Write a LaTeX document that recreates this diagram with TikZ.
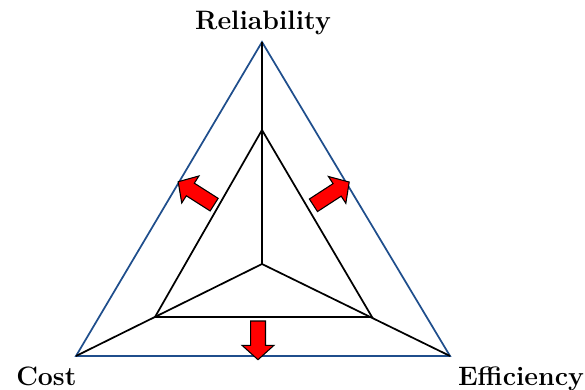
\documentclass[tikz,border=0pt]{standalone}
\usepackage{tikz}
\usetikzlibrary{shapes.arrows}
\definecolor{ink}{HTML}{000000}
\definecolor{frame}{HTML}{1F4E8C}
\definecolor{push}{HTML}{FF0000}
\tikzset{
  outer/.style={draw=frame, line width=1.3pt},
  web/.style={draw=ink, line width=1.3pt},
  axislabel/.style={inner sep=0pt, font=\fontsize{20}{22}\selectfont\bfseries, text=ink},
  redarrow/.style={single arrow, draw=ink, fill=push, line width=0.8pt,
                   inner xsep=0pt, inner ysep=5.2pt,
                   single arrow head extend=6.4pt,
                   minimum height=32pt, single arrow tip angle=96},
}
\begin{document}
\begin{tikzpicture}[x=0.75pt, y=-0.75pt]
  \useasboundingbox (0,0) rectangle (585,389);
  % outer and inner triangle
  \coordinate (rel) at (262,42);
  \coordinate (cost) at (76,356);
  \coordinate (eff) at (450,356);
  \coordinate (mid) at (262,264);
  \coordinate (irel) at (262,130);
  \coordinate (icost) at (155,317);
  \coordinate (ieff) at (372,317);
  \draw[outer] (rel) -- (eff) -- (cost) -- cycle;
  \draw[web] (rel) -- (mid) (cost) -- (mid) -- (eff);
  \draw[web] (irel) -- (ieff) -- (icost) -- cycle;
  % labels
  \node[axislabel, anchor=base] (lrel) at (263,29) {Reliability};
  \node[axislabel, anchor=base west] (lcost) at (16,385) {Cost};
  \node[axislabel, anchor=base] (leff) at (521,385) {Efficiency};
  % arrows
  \node[redarrow, rotate=147.5] (up) at (199,195) {};
  \node[redarrow, rotate=33] (right) at (328.5,195.5) {};
  \node[redarrow, rotate=-90, minimum height=29pt] (down) at (258,337) {};
\end{tikzpicture}
\end{document}
